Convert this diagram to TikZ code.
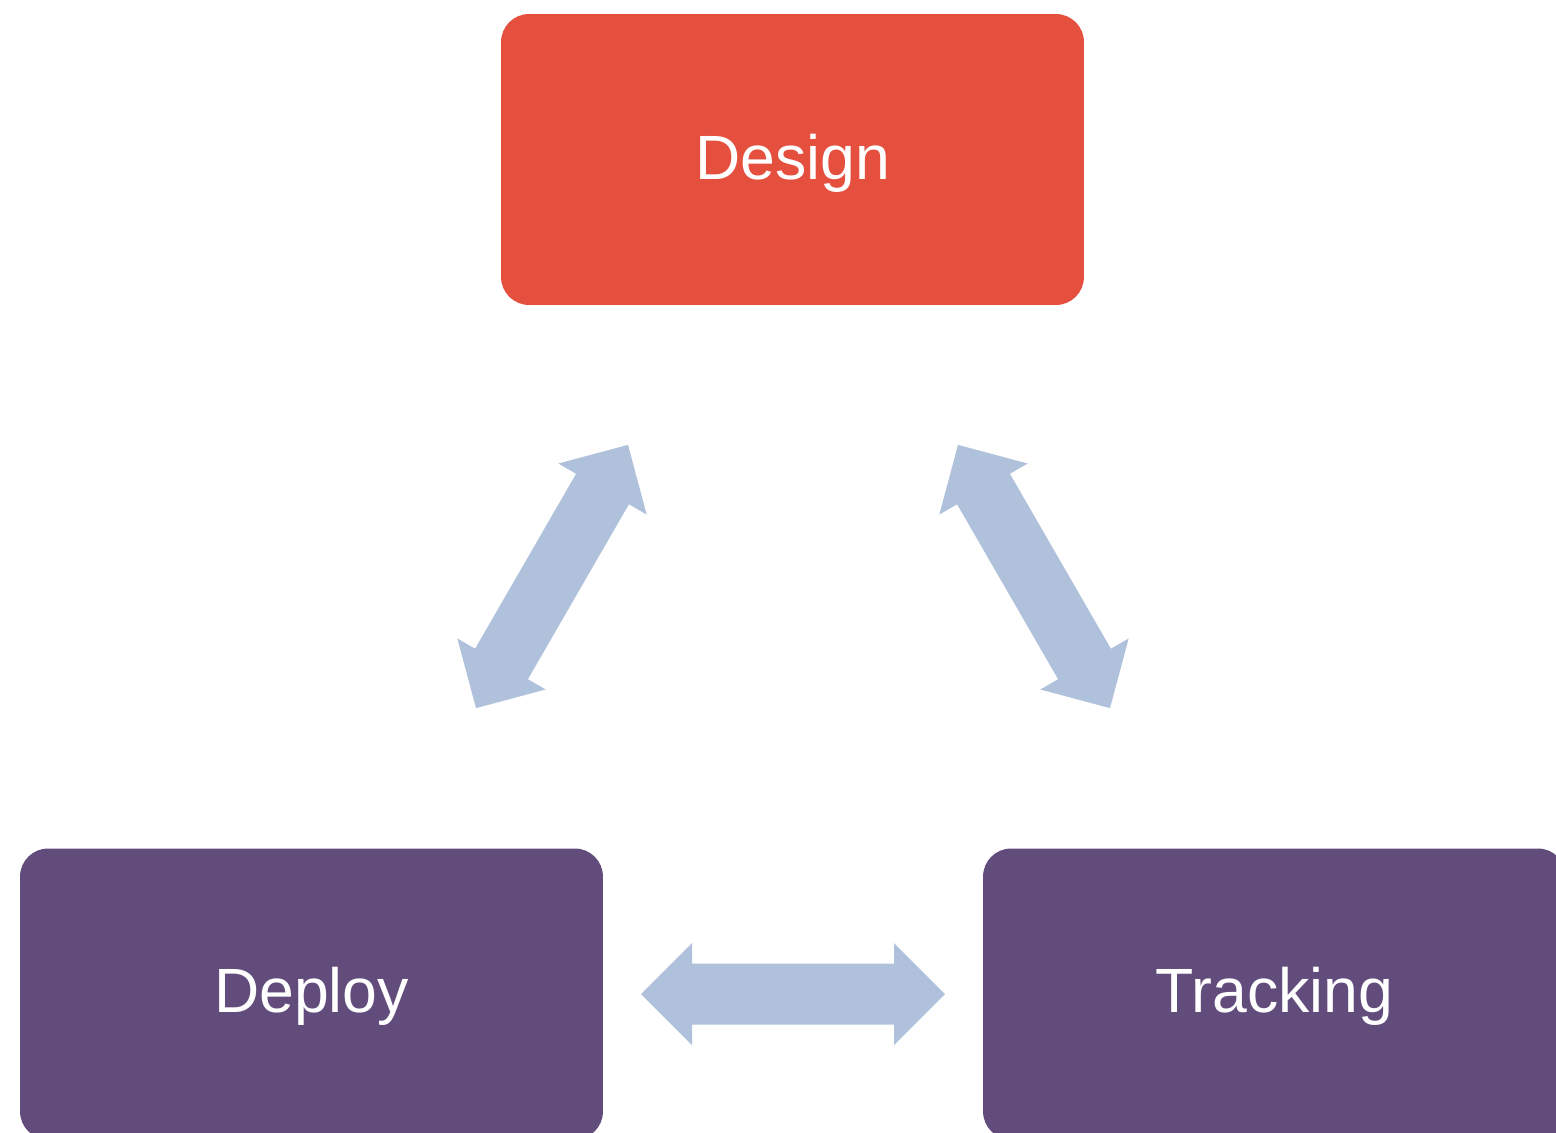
\documentclass[tikz,border=0pt]{standalone}
\usepackage{fontspec}
\setmainfont{Liberation Sans}
\definecolor{designred}{HTML}{E54F3E}
\definecolor{stagepurple}{HTML}{614C7C}
\definecolor{arrowblue}{HTML}{B0C1DC}
\tikzset{
  stagebox/.style={draw=none, rounded corners=0.56cm, minimum width=11.66cm, minimum height=5.82cm,
    inner sep=0pt, text=white, font=\fontsize{35.6}{40}\selectfont, text height=25.5pt, text depth=0pt},
  blockarrow/.style={fill=arrowblue, draw=none}
}
\newcommand{\dblarrowshape}{(-152,0) -- (-101,51) -- (-101,30.5) -- (101,30.5) -- (101,51) -- (152,0) -- (101,-51) -- (101,-30.5) -- (-101,-30.5) -- (-101,-51) -- cycle}
\begin{document}
\begin{tikzpicture}[x=0.02cm, y=-0.02cm]
\useasboundingbox (0,0) rectangle (1556,1133);
\clip (0,0) rectangle (1556,1133);
\fill[white] (0,0) rectangle (1556,1133);
\node[stagebox, fill=designred, text depth=2.3pt] (design) at (792.5,159.5) {Design};
\node[stagebox, fill=stagepurple, text depth=4pt] (deploy) at (311.5,994) {Deploy};
\node[stagebox, fill=stagepurple, text depth=4pt] (tracking) at (1274.5,994) {Tracking};
\coordinate (leftmid) at (552,576.5);
\coordinate (rightmid) at (1034,576.5);
\coordinate (bottommid) at (793,994);
\begin{scope}[shift={(leftmid)}, rotate=60]
  \fill[blockarrow] \dblarrowshape;
\end{scope}
\begin{scope}[shift={(rightmid)}, rotate=-60]
  \fill[blockarrow] \dblarrowshape;
\end{scope}
\begin{scope}[shift={(bottommid)}]
  \fill[blockarrow] \dblarrowshape;
\end{scope}
\end{tikzpicture}
\end{document}
